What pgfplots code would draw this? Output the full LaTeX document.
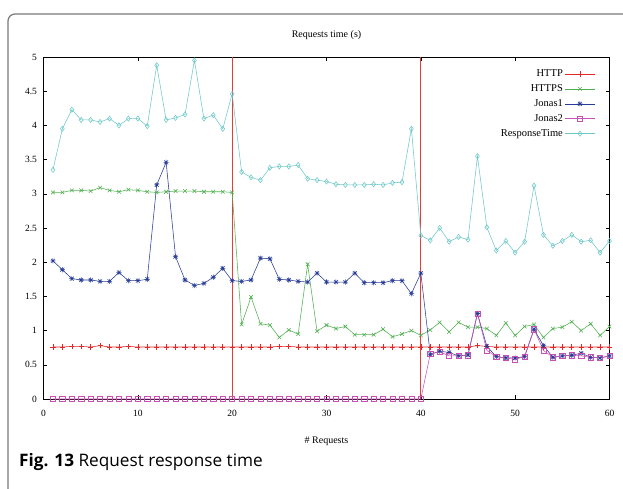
\documentclass[border=0pt]{standalone}
\usepackage{pgfplots}
\pgfplotsset{compat=1.18}
\usepackage{fontspec}
\setmainfont{Liberation Serif}
\newfontfamily\capfont{Open Sans}
\definecolor{chttp}{RGB}{228,40,40}
\definecolor{chttps}{RGB}{80,176,80}
\definecolor{cjonasa}{RGB}{40,60,150}
\definecolor{cjonasb}{RGB}{200,80,180}
\definecolor{cresp}{RGB}{110,200,200}
\definecolor{cvline}{RGB}{230,60,60}
\definecolor{cframe}{RGB}{120,120,120}
% gnuplot-like star: a + and an x on top of each other
\pgfdeclareplotmark{gpstar}{%
  \pgfpathmoveto{\pgfqpoint{-\pgfplotmarksize}{0pt}}%
  \pgfpathlineto{\pgfqpoint{\pgfplotmarksize}{0pt}}%
  \pgfpathmoveto{\pgfqpoint{0pt}{-\pgfplotmarksize}}%
  \pgfpathlineto{\pgfqpoint{0pt}{\pgfplotmarksize}}%
  \pgfpathmoveto{\pgfqpoint{-.75\pgfplotmarksize}{-.75\pgfplotmarksize}}%
  \pgfpathlineto{\pgfqpoint{.75\pgfplotmarksize}{.75\pgfplotmarksize}}%
  \pgfpathmoveto{\pgfqpoint{-.75\pgfplotmarksize}{.75\pgfplotmarksize}}%
  \pgfpathlineto{\pgfqpoint{.75\pgfplotmarksize}{-.75\pgfplotmarksize}}%
  \pgfusepathqstroke}
\begin{document}
\begin{tikzpicture}
\begin{axis}[
  scale only axis, width=566pt, height=342pt,
  xmin=0, xmax=60, ymin=0, ymax=5,
  xtick={0,10,...,60}, ytick={0,0.5,...,5},
  tick align=inside, major tick length=4pt,
  axis line style={black, line width=0.8pt},
  every tick/.style={black, line width=0.5pt},
  /pgf/number format/assume math mode=true,
  ticklabel style={font=\fontsize{9.5}{10}\selectfont},
  xticklabel style={yshift=-8pt},
  yticklabel style={xshift=-3pt},
  title={Requests time (s)},
  title style={font=\fontsize{10}{11}\selectfont, yshift=8pt},
  xlabel={\# Requests},
  xlabel style={font=\fontsize{10}{11}\selectfont, yshift=-13pt},
  legend plot pos=right,
  legend cell align=right,
  legend style={at={(rel axis cs:0.98,0.975)}, anchor=north east, draw=none, fill=none,
    font=\fontsize{10.5}{12}\selectfont, row sep=2.5pt},
  legend image code/.code={\draw[mark repeat=2,mark phase=2] plot coordinates {(0cm,0cm)(0.52cm,0cm)(1.04cm,0cm)};},
  every axis plot/.append style={line width=0.55pt, mark size=2.6pt},
]
\addplot[cvline, line width=0.7pt, forget plot] coordinates {(20,0) (20,5)};
\addplot[cvline, line width=0.7pt, forget plot] coordinates {(40,0) (40,5)};
% HTTP
\addplot[chttp, mark=+] coordinates {
(1,0.76)(2,0.76)(3,0.77)(4,0.77)(5,0.76)(6,0.78)(7,0.76)(8,0.76)(9,0.77)(10,0.76)
(11,0.76)(12,0.76)(13,0.76)(14,0.76)(15,0.76)(16,0.76)(17,0.76)(18,0.76)(19,0.76)(20,0.76)
(21,0.76)(22,0.76)(23,0.76)(24,0.76)(25,0.77)(26,0.77)(27,0.76)(28,0.76)(29,0.76)(30,0.76)
(31,0.76)(32,0.76)(33,0.76)(34,0.76)(35,0.76)(36,0.76)(37,0.76)(38,0.76)(39,0.76)(40,0.76)
(41,0.76)(42,0.76)(43,0.76)(44,0.76)(45,0.76)(46,0.78)(47,0.77)(48,0.76)(49,0.76)(50,0.76)
(51,0.76)(52,0.76)(53,0.76)(54,0.76)(55,0.76)(56,0.76)(57,0.76)(58,0.76)(59,0.76)(60,0.76)
};
\addlegendentry{HTTP}
% HTTPS
\addplot[chttps, mark=x] coordinates {
(1,3.02)(2,3.02)(3,3.05)(4,3.05)(5,3.04)(6,3.09)(7,3.05)(8,3.03)(9,3.06)(10,3.05)
(11,3.03)(12,3.02)(13,3.03)(14,3.04)(15,3.04)(16,3.04)(17,3.03)(18,3.03)(19,3.03)(20,3.02)
(21,1.09)(22,1.49)(23,1.10)(24,1.08)(25,0.90)(26,1.01)(27,0.95)(28,1.97)(29,0.99)(30,1.08)
(31,1.03)(32,1.06)(33,0.94)(34,0.94)(35,0.94)(36,1.02)(37,0.91)(38,0.95)(39,1.00)(40,0.93)
(41,1.01)(42,1.12)(43,0.98)(44,1.12)(45,1.05)(46,1.05)(47,1.03)(48,0.93)(49,1.11)(50,0.93)
(51,1.06)(52,1.09)(53,0.90)(54,1.03)(55,1.05)(56,1.13)(57,1.00)(58,1.10)(59,0.93)(60,1.06)
};
\addlegendentry{HTTPS}
% Jonas1
\addplot[cjonasa, mark=gpstar] coordinates {
(1,2.02)(2,1.89)(3,1.76)(4,1.74)(5,1.74)(6,1.72)(7,1.72)(8,1.85)(9,1.73)(10,1.73)
(11,1.75)(12,3.13)(13,3.46)(14,2.08)(15,1.74)(16,1.66)(17,1.69)(18,1.78)(19,1.91)(20,1.73)
(21,1.72)(22,1.74)(23,2.06)(24,2.05)(25,1.75)(26,1.74)(27,1.72)(28,1.71)(29,1.84)(30,1.71)
(31,1.71)(32,1.71)(33,1.84)(34,1.70)(35,1.70)(36,1.70)(37,1.73)(38,1.73)(39,1.54)(40,1.84)
(41,0.65)(42,0.70)(43,0.68)(44,0.63)(45,0.645)(46,1.25)(47,0.77)(48,0.62)(49,0.60)(50,0.60)
(51,0.62)(52,1.02)(53,0.78)(54,0.61)(55,0.63)(56,0.64)(57,0.67)(58,0.61)(59,0.60)(60,0.63)
};
\addlegendentry{Jonas1}
% Jonas2
\addplot[cjonasb, mark=square] coordinates {
(1,0)(2,0)(3,0)(4,0)(5,0)(6,0)(7,0)(8,0)(9,0)(10,0)
(11,0)(12,0)(13,0)(14,0)(15,0)(16,0)(17,0)(18,0)(19,0)(20,0)
(21,0)(22,0)(23,0)(24,0)(25,0)(26,0)(27,0)(28,0)(29,0)(30,0)
(31,0)(32,0)(33,0)(34,0)(35,0)(36,0)(37,0)(38,0)(39,0)(40,0)
(41,0.66)(42,0.69)(43,0.63)(44,0.63)(45,0.64)(46,1.25)(47,0.71)(48,0.62)(49,0.60)(50,0.58)
(51,0.62)(52,1.02)(53,0.71)(54,0.61)(55,0.63)(56,0.64)(57,0.63)(58,0.61)(59,0.60)(60,0.63)
};
\addlegendentry{Jonas2}
% ResponseTime
\addplot[cresp, mark=diamond] coordinates {
(1,3.35)(2,3.95)(3,4.23)(4,4.08)(5,4.08)(6,4.05)(7,4.10)(8,4.00)(9,4.10)(10,4.10)
(11,3.99)(12,4.88)(13,4.08)(14,4.11)(15,4.16)(16,4.95)(17,4.10)(18,4.15)(19,3.95)(20,4.46)
(21,3.32)(22,3.24)(23,3.20)(24,3.38)(25,3.40)(26,3.40)(27,3.42)(28,3.22)(29,3.20)(30,3.18)
(31,3.14)(32,3.13)(33,3.13)(34,3.13)(35,3.14)(36,3.13)(37,3.16)(38,3.17)(39,3.95)(40,2.39)
(41,2.32)(42,2.50)(43,2.30)(44,2.37)(45,2.33)(46,3.55)(47,2.51)(48,2.17)(49,2.31)(50,2.14)
(51,2.30)(52,3.12)(53,2.40)(54,2.24)(55,2.31)(56,2.40)(57,2.30)(58,2.32)(59,2.14)(60,2.31)
};
\addlegendentry{ResponseTime}
\end{axis}
% figure frame and caption, in pixel units of the page, axis corner at (43.5pt,89pt)
\begin{scope}[x=1pt, y=1pt, shift={(-43.5pt,-89pt)}]
\useasboundingbox (0,0) rectangle (623,488);
\draw[cframe, line width=1.2pt, rounded corners=7pt] (8,-5) -- (8,474) -- (630,474);
\node[anchor=base west, inner sep=0pt, font=\capfont\fontsize{17.2}{20}\selectfont] at (19,22)
  {\textbf{Fig. 13} Request response time};
\end{scope}
\end{tikzpicture}
\end{document}
